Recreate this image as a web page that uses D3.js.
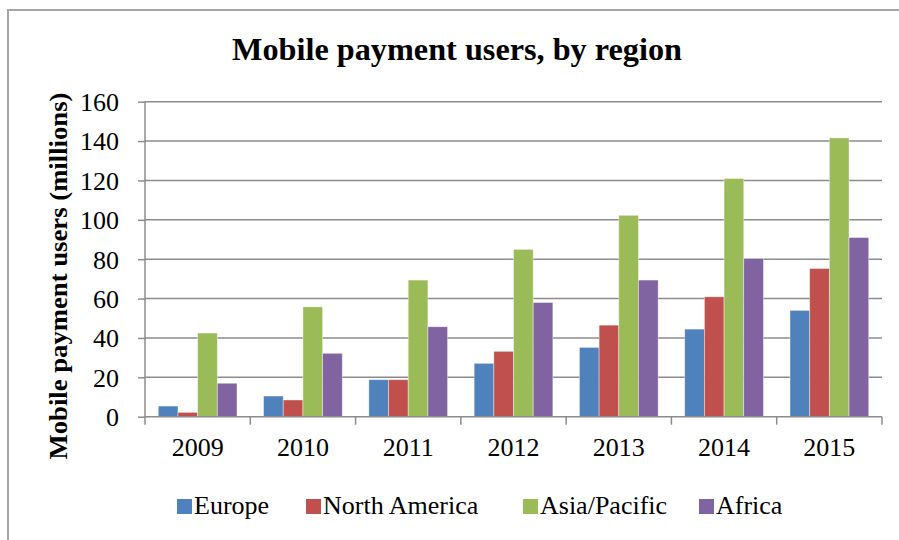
<!DOCTYPE html>
<html>
<head>
<meta charset="utf-8">
<script src="https://cdn.jsdelivr.net/npm/d3@7"></script>
<style>
  body { margin: 0; background: #fff; }
  #vis { width: 899px; height: 540px; }
</style>
</head>
<body>
<div id="vis"></div>
<script>
var years = ['2009', '2010', '2011', '2012', '2013', '2014', '2015'];
var regions = ['Europe', 'North America', 'Asia/Pacific', 'Africa'];
var europe = [5.4, 10.5, 18.8, 27.1, 35.2, 44.5, 54];
var north_america = [2.2, 8.5, 18.8, 33.2, 46.5, 60.9, 75.3];
var asia_pacific = [42.5, 55.8, 69.4, 85, 102.3, 121, 141.6];
var africa = [17, 32.2, 45.7, 58, 69.4, 80.4, 91];
var y_ticks = [0, 20, 40, 60, 80, 100, 120, 140, 160];
var colours = ['#4F81BD', '#C0504D', '#9BBB59', '#8064A2'];

var series = [europe, north_america, asia_pacific, africa];
var font = '"Liberation Serif"';

var width = 899, height = 540;
var margin = { top: 101.7, bottom: 123.3, left: 145, right: 17 };

var svg = d3.select('#vis')
    .append('svg')
    .attr('width', width)
    .attr('height', height);

// chart border (only left and top show in frame)
svg.append('rect')
    .attr('x', 8)
    .attr('y', 10)
    .attr('width', 920)
    .attr('height', 560)
    .attr('fill', 'none')
    .attr('stroke', '#a6a6a6')
    .attr('stroke-width', 2);

var w = width - margin.left - margin.right;
var h = height - margin.top - margin.bottom;

var g = svg.append('g')
    .attr('transform', 'translate(' + margin.left + ',' + margin.top + ')');

var x_scale = d3.scaleBand()
    .domain(years)
    .range([0, w])
    .padding(0);

var gap = x_scale.bandwidth() * 1.35 / 5.35;
var x1 = d3.scaleBand()
    .domain(regions)
    .range([gap / 2, x_scale.bandwidth() - gap / 2])
    .padding(0);

var y_scale = d3.scaleLinear()
    .domain([0, 160])
    .range([h, 0]);

// gridlines
g.selectAll('.grid')
    .data(y_ticks.slice(1))
    .enter()
    .append('line')
    .attr('class', 'grid')
    .attr('x1', 0)
    .attr('x2', w)
    .attr('y1', function(d) { return y_scale(d); })
    .attr('y2', function(d) { return y_scale(d); })
    .attr('stroke', '#8c8c8c')
    .attr('stroke-width', 1.5);

// bars
var groups = g.selectAll('.year')
    .data(years)
    .enter()
    .append('g')
    .attr('class', 'year')
    .attr('transform', function(d) { return 'translate(' + x_scale(d) + ',0)'; });

groups.selectAll('rect')
    .data(function(d, i) {
        return regions.map(function(r, j) { return { region: r, value: series[j][i], k: j }; });
    })
    .enter()
    .append('rect')
    .attr('x', function(d) { return x1(d.region); })
    .attr('width', x1.bandwidth())
    .attr('y', function(d) { return y_scale(d.value); })
    .attr('height', function(d) { return h - y_scale(d.value); })
    .attr('fill', function(d) { return colours[d.k]; })
    .attr('stroke', 'rgba(255,255,255,0.5)')
    .attr('stroke-width', 0.8);

// y axis
var y_axis = d3.axisLeft(y_scale)
    .tickValues(y_ticks)
    .tickSize(7)
    .tickPadding(19);

var ya = g.append('g')
    .attr('class', 'y axis')
    .call(y_axis)
    .attr('font-family', 'Liberation Serif')
    .attr('font-size', 26);
ya.select('.domain').attr('stroke', '#8c8c8c').attr('stroke-width', 1.5).attr('d', 'M0,0V' + h);
ya.selectAll('.tick line').attr('stroke', '#8c8c8c').attr('stroke-width', 1.5);
ya.selectAll('.tick text')
    .style('font-family', font)
    .style('font-size', '26px')
    .attr('dy', '0.34em');

// x axis
var x_axis = d3.axisBottom(x_scale)
    .tickSize(0)
    .tickPadding(21);

var xa = g.append('g')
    .attr('class', 'x axis')
    .attr('transform', 'translate(0,' + h + ')')
    .call(x_axis)
    .attr('font-family', 'Liberation Serif')
    .attr('font-size', 26);
xa.select('.domain').attr('stroke', '#8c8c8c').attr('stroke-width', 1.5).attr('d', 'M0,0H' + w);
xa.selectAll('.tick text')
    .style('font-family', font)
    .style('font-size', '26px');

// category boundary ticks
xa.selectAll('.bound')
    .data(d3.range(years.length + 1))
    .enter()
    .append('line')
    .attr('class', 'bound')
    .attr('x1', function(i) { return i * x_scale.step(); })
    .attr('x2', function(i) { return i * x_scale.step(); })
    .attr('y1', 0)
    .attr('y2', 8)
    .attr('stroke', '#8c8c8c')
    .attr('stroke-width', 1.5);

// title
svg.append('text')
    .attr('x', 457)
    .attr('y', 60)
    .attr('text-anchor', 'middle')
    .style('font-family', font)
    .style('font-size', '31px')
    .style('font-weight', 'bold')
    .attr('textLength', 450)
    .attr('lengthAdjust', 'spacingAndGlyphs')
    .text('Mobile payment users, by region');

// y title
svg.append('text')
    .attr('transform', 'translate(67,276) rotate(-90)')
    .attr('text-anchor', 'middle')
    .style('font-family', font)
    .style('font-size', '25px')
    .style('font-weight', 'bold')
    .attr('textLength', 367)
    .attr('lengthAdjust', 'spacingAndGlyphs')
    .text('Mobile payment users (millions)');

// legend
var legend_x = [177, 306, 523, 699];
var leg = svg.selectAll('.legend')
    .data(regions)
    .enter()
    .append('g')
    .attr('class', 'legend')
    .attr('transform', function(d, i) { return 'translate(' + legend_x[i] + ',499)'; });

leg.append('rect')
    .attr('width', 15)
    .attr('height', 15)
    .attr('fill', function(d, i) { return colours[i]; });

leg.append('text')
    .attr('x', 17)
    .attr('y', 15)
    .style('font-family', font)
    .style('font-size', '26px')
    .text(function(d) { return d; });
</script>
</body>
</html>
